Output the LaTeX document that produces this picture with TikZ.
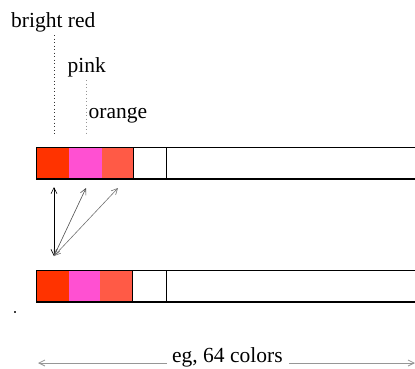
\documentclass[tikz,border=0pt]{standalone}
\usepackage{fontspec}
\setmainfont{Liberation Serif}
\newfontfamily\labelfont{Liberation Serif}
\usetikzlibrary{arrows.meta}

\definecolor{brightred}{RGB}{255,51,0}
\definecolor{pinkc}{RGB}{255,80,210}
\definecolor{orangec}{RGB}{255,90,70}
\definecolor{guide}{RGB}{150,150,150}

\begin{document}
\begin{tikzpicture}[x=1pt,y=-1pt,
  lbl/.style={anchor=base west,inner sep=0pt,font=\labelfont\fontsize{21.5}{25}\selectfont},
  cell/.style={inner sep=0pt,minimum height=31pt,draw=none},
  bar/.style={line width=1.3pt,black},
  barb/.style={{Straight Barb[length=6pt,width=6pt]}-{Straight Barb[length=6pt,width=6pt]}},
  link/.style={barb,line width=0.6pt},
  guideline/.style={dash pattern=on 1pt off 2.5pt,line width=0.9pt},
  span/.style={line width=0.8pt,guide}]
\useasboundingbox (0,0) rectangle (415,368);
\clip (0,0) rectangle (415,368);

% colour labels with their dotted guides
\node[lbl] (lred) at (11,27) {bright red};
\node[lbl] (lpink) at (67.5,72.5) {pink};
\node[lbl] (lorange) at (88.5,118) {orange};
\coordinate (gr1) at (54,35);
\coordinate (gr2) at (54,136);
\coordinate (gp1) at (86,80);
\coordinate (gp2) at (86,135);
\draw[guideline,black!80] (gr1) -- (gr2);
\draw[guideline,guide] (gp1) -- (gp2);

% upper colour table
\node[cell,fill=brightred,minimum width=32pt] (r1) at (53,163.5) {};
\node[cell,fill=pinkc,minimum width=32.5pt] (p1) at (85.25,163.5) {};
\node[cell,fill=orangec,minimum width=32.5pt] (o1) at (117.75,163.5) {};
\node[cell,fill=white,minimum width=32pt] (w1) at (150,163.5) {};
\draw[bar] (r1.north west) rectangle (430,179);
\draw[bar] (w1.north west) -- (w1.south west);
\draw[bar] (w1.north east) -- (w1.south east);

% lower colour table
\node[cell,fill=brightred,minimum width=32pt] (r2) at (53,286.5) {};
\node[cell,fill=pinkc,minimum width=31pt] (p2) at (84.5,286.5) {};
\node[cell,fill=orangec,minimum width=33pt] (o2) at (116.5,286.5) {};
\node[cell,fill=white,minimum width=33pt] (w2) at (149.5,286.5) {};
\draw[bar] (r2.north west) rectangle (430,302);
\draw[bar] (w2.north west) -- (w2.south west);
\draw[bar] (w2.north east) -- (w2.south east);

% mapping arrows
\coordinate (hub) at (54,256);
\coordinate (tr) at (54,187);
\coordinate (tp) at (86,188);
\coordinate (to) at (118,188);
\draw[link,black] (hub) -- (tr);
\draw[link,black!70] (hub) -- (tp);
\draw[link,black!55] (hub) -- (to);

% stray mark
\fill[black!75] (13.5,310.5) rectangle (15.5,312.5);

% width of the table
\node[lbl] (count) at (172,362) {eg, 64 colors};
\coordinate (sl) at (38,363);
\coordinate (sr) at (415,363);
\draw[span,-{Straight Barb[length=6pt,width=6pt]}] (count.base west) ++(-5,1) -- (sl);
\draw[span,-{Straight Barb[length=6pt,width=6pt]}] (count.base east) ++(6,1) -- (sr);
\end{tikzpicture}
\end{document}
